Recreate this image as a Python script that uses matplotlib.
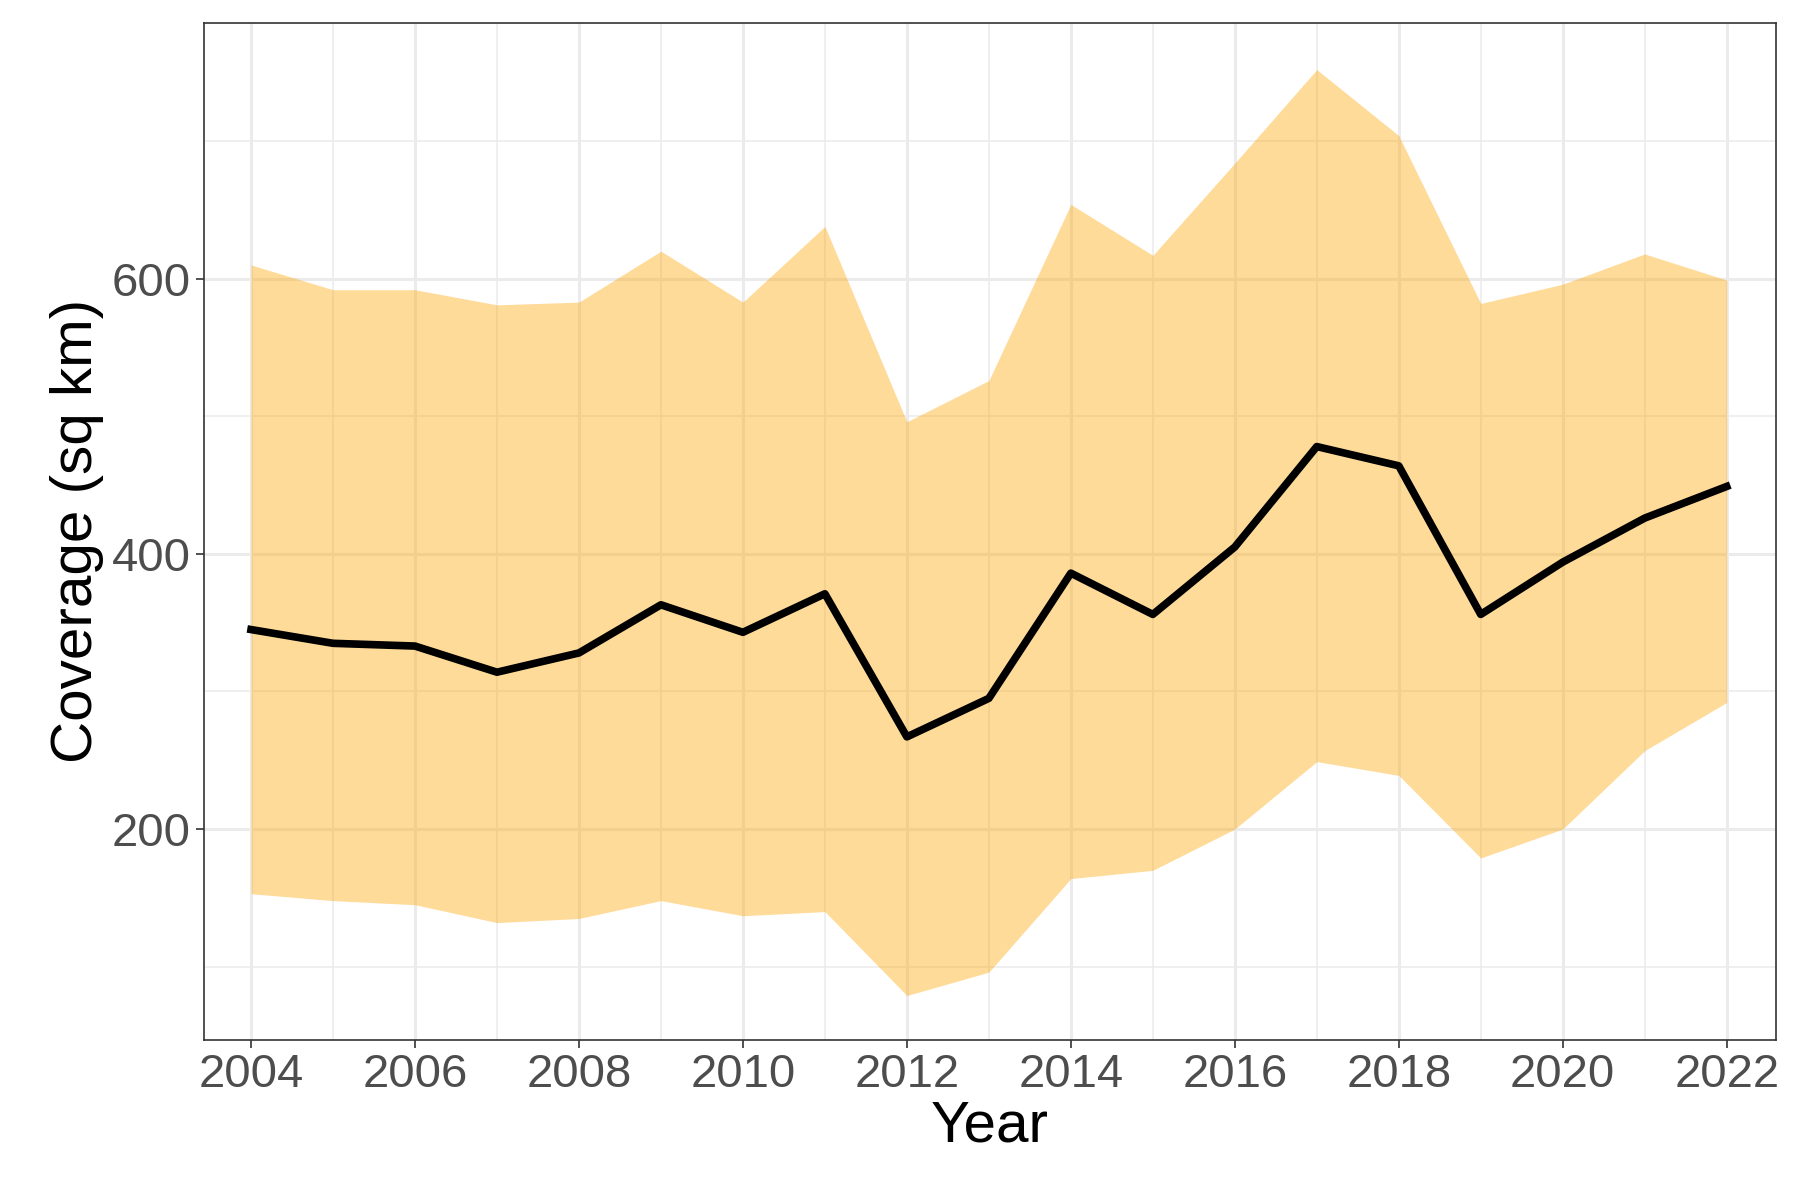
import matplotlib
matplotlib.use("Agg")
import matplotlib.pyplot as plt

plt.rcParams['font.family'] = ['Liberation Sans', 'DejaVu Sans']

years = list(range(2004, 2023))
mean = [345, 335, 333, 314, 328, 363, 343, 371, 267, 295, 386, 356, 405, 478, 464, 356, 394, 426, 449]
upper = [610, 592, 592, 581, 583, 620, 583, 638, 496, 526, 654, 617, 684, 752, 704, 582, 596, 618, 599]
lower = [153, 148, 145, 132, 135, 148, 137, 140, 79, 96, 164, 170, 200, 249, 239, 179, 200, 257, 292]

fig = plt.figure(figsize=(18, 12), dpi=100)
ax = fig.add_axes([0.1135, 0.1337, 0.8731, 0.8473])

ax.fill_between(years, lower, upper, color="orange", alpha=0.4, linewidth=0, zorder=2)
ax.plot(years, mean, color="black", linewidth=5.5, zorder=3)

ax.set_xlim(2003.43, 2022.6)
ax.set_ylim(47, 786)
ax.set_xticks(range(2004, 2023, 2))
ax.set_xticks(range(2005, 2023, 2), minor=True)
ax.set_yticks([200, 400, 600])
ax.set_yticks([100, 300, 500, 700], minor=True)
ax.grid(True, which="major", color="#EBEBEB", linewidth=2.2, zorder=1)
ax.grid(True, which="minor", color="#EBEBEB", linewidth=1.1, zorder=1)
ax.set_axisbelow(True)
for s in ax.spines.values():
    s.set_color("#333333")
    s.set_linewidth(1.2)
ax.tick_params(which="major", labelsize=34, labelcolor="#4D4D4D", color="#333333", length=6, width=1.2)
ax.tick_params(which="minor", length=0)
ax.set_xlabel("Year", fontsize=42, labelpad=2)
ax.set_ylabel("Coverage (sq km)", fontsize=42, labelpad=6)

fig.savefig("out.png", dpi=100)
